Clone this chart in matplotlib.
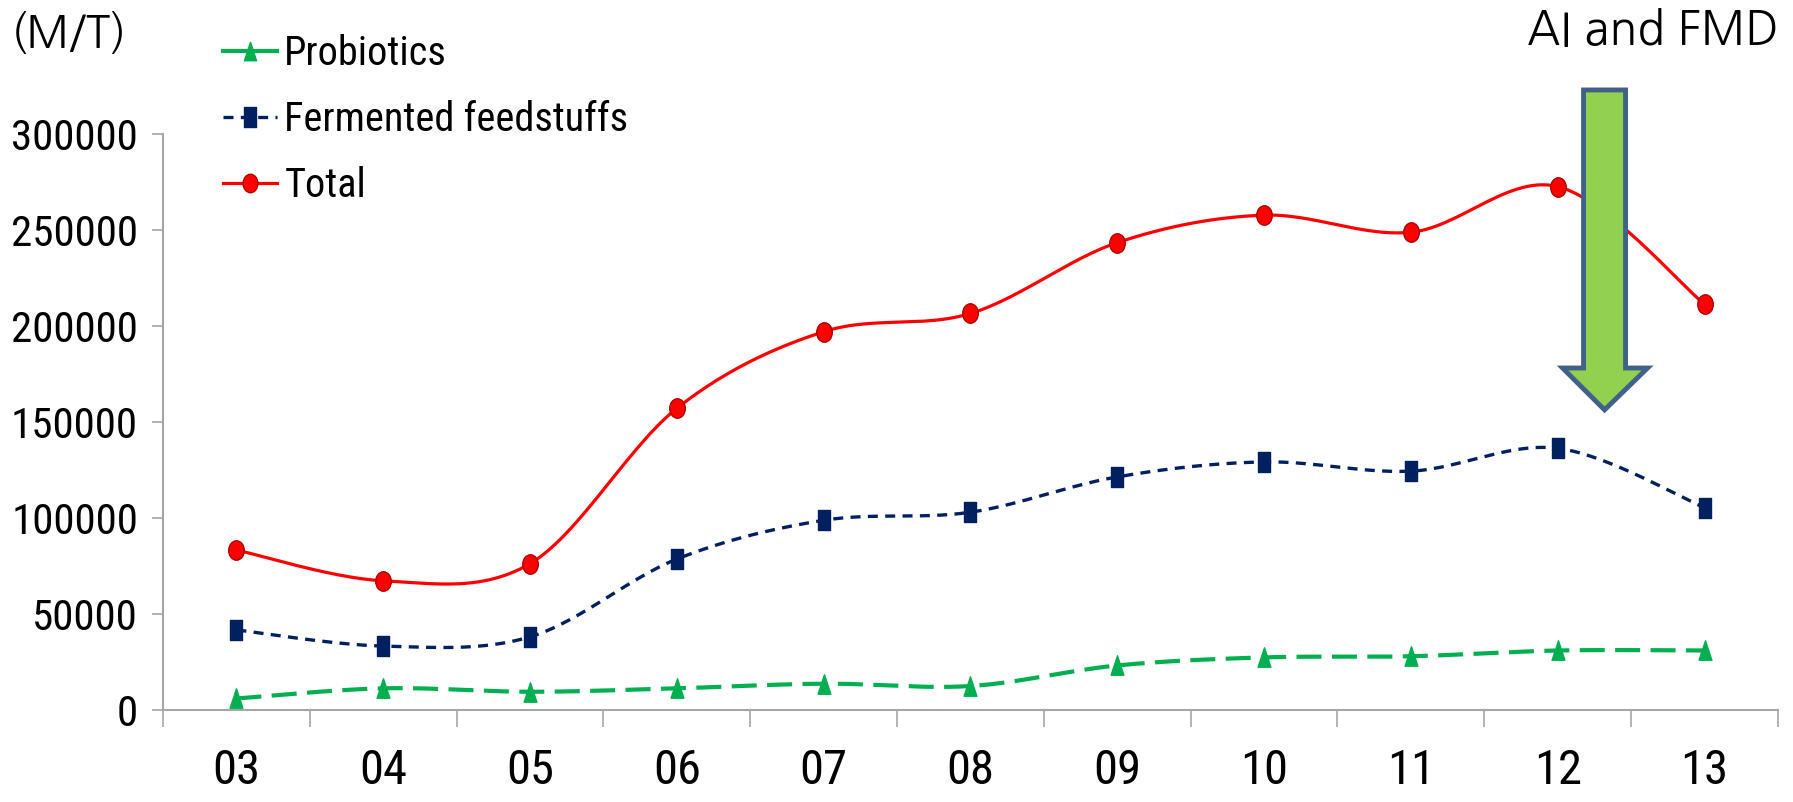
import numpy as np
import matplotlib
matplotlib.use("Agg")
import matplotlib.pyplot as plt
from matplotlib.patches import Polygon
from matplotlib.path import Path
from matplotlib.transforms import Affine2D

years = ["03", "04", "05", "06", "07", "08", "09", "10", "11", "12", "13"]
probiotics = [6000, 11300, 9500, 11300, 13700, 12500, 23200, 27400, 28000, 31000, 31000]
fermented = [41700, 33300, 38100, 78600, 98800, 103000, 121400, 129200, 124400, 136300, 105400]
total = [83300, 67300, 76200, 157100, 197000, 206500, 243400, 257700, 248800, 272600, 211300]
yticks = [0, 50000, 100000, 150000, 200000, 250000, 300000]

narrow = ["Roboto Condensed", "DejaVu Sans"]
wide = ["NanumGothic", "DejaVu Sans"]

# squeezed marker shapes
oval = Path.unit_circle().transformed(Affine2D().scale(0.8, 1.0))
bar = Path([(-0.3, -0.5), (0.3, -0.5), (0.3, 0.5), (-0.3, 0.5), (-0.3, -0.5)], closed=True)
tri = Path([(-0.33, -0.5), (0.33, -0.5), (0, 0.5), (-0.33, -0.5)], closed=True)


def smooth(xs, ys, steps=30):
    # bezier segments with catmull-rom style control points (like excel smoothed lines)
    xs = np.asarray(xs, float)
    ys = np.asarray(ys, float)
    n = len(xs)
    ox, oy = [], []
    for i in range(n - 1):
        p0 = max(i - 1, 0)
        p3 = min(i + 2, n - 1)
        c1x = xs[i] + (xs[i + 1] - xs[p0]) / 6
        c1y = ys[i] + (ys[i + 1] - ys[p0]) / 6
        c2x = xs[i + 1] - (xs[p3] - xs[i]) / 6
        c2y = ys[i + 1] - (ys[p3] - ys[i]) / 6
        t = np.linspace(0, 1, steps)
        a, b, c, d = (1 - t) ** 3, 3 * (1 - t) ** 2 * t, 3 * (1 - t) * t ** 2, t ** 3
        ox.extend(a * xs[i] + b * c1x + c * c2x + d * xs[i + 1])
        oy.extend(a * ys[i] + b * c1y + c * c2y + d * ys[i + 1])
    return ox, oy


fig = plt.figure(figsize=(17.93, 8.02), dpi=100)
ax = fig.add_axes([0.0909, 0.1147, 0.9007, 0.7183])
x = np.arange(len(years))

series = [
    ("Probiotics", probiotics, "#00B050", (0, (6, 2.5)), tri, 3.0, 14, "#00B050"),
    ("Fermented feedstuffs", fermented, "#002060", (0, (3, 2.2)), bar, 2.4, 15, "#002060"),
    ("Total", total, "#FF0000", "-", oval, 2.3, 14, "#B00000"),
]
handles = []
for name, vals, col, ls, mk, lw, ms, ec in series:
    sx, sy = smooth(x, vals)
    ax.plot(sx, sy, color=col, linestyle=ls, lw=lw, zorder=3)
    ax.plot(x, vals, linestyle="none", marker=mk, ms=ms, color=col,
            markeredgecolor=ec, markeredgewidth=1, zorder=4)
    h, = ax.plot([], [], color=col, linestyle="-" if mk is tri else ls, lw=lw,
                 marker=mk, ms=ms * 0.95, markeredgecolor=ec)
    handles.append((h, name))

ax.set_xlim(-0.5, len(years) - 0.5)
ax.set_ylim(0, 300000)
ax.set_yticks(yticks)
ax.set_yticklabels([str(v) for v in yticks], family=narrow, fontsize=31)
ax.set_xticks(x)
ax.set_xticklabels(years, family=narrow, fontsize=35)
ax.set_xticks(np.arange(-0.5, len(years)), minor=True)
ax.tick_params(axis="x", which="major", length=0, pad=27)
ax.tick_params(axis="x", which="minor", length=12, width=1.2, color="#A6A6A6", direction="out")
ax.tick_params(axis="y", length=8, width=1.2, color="#A6A6A6", pad=10)
for s in ["top", "right"]:
    ax.spines[s].set_visible(False)
for s in ["left", "bottom"]:
    ax.spines[s].set_color("#A6A6A6")
    ax.spines[s].set_linewidth(1.5)

leg = ax.legend([h for h, _ in handles], [n for _, n in handles],
                loc="upper left", bbox_to_anchor=(0.104, 1.003), bbox_transform=fig.transFigure,
                frameon=False, handlelength=1.35, handletextpad=0.18, labelspacing=0.67,
                prop={"family": narrow, "size": 29})

fig.text(0.006, 0.985, "(M/T)", family=wide, fontsize=32, va="top", ha="left")
fig.text(0.992, 0.99, "AI and FMD", family=wide, fontsize=33, va="top", ha="right")

# down arrow marking the AI / FMD outbreak
arrow = Polygon([(9.176, 322900), (9.462, 322900), (9.462, 178100), (9.612, 178100),
                 (9.319, 156300), (9.033, 178100), (9.176, 178100)],
                closed=True, facecolor="#92D050", edgecolor="#41618A", lw=3.5,
                clip_on=False, zorder=6)
ax.add_patch(arrow)

fig.savefig("out.png", dpi=100)
